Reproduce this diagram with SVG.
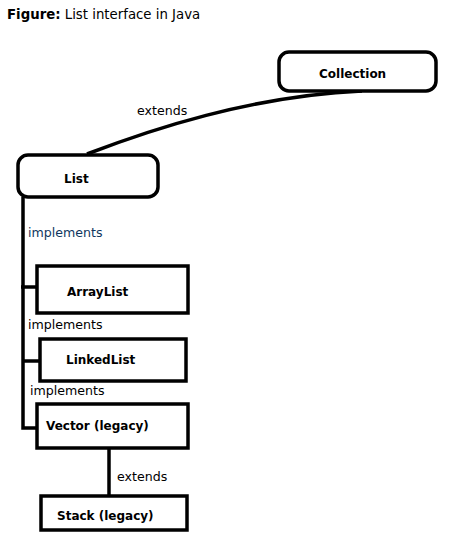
<svg xmlns="http://www.w3.org/2000/svg" width="454" height="553" viewBox="0 0 454 553">
<style>
.box{fill:#fff;stroke:#000;stroke-width:3.5}
.ln{fill:none;stroke:#000;stroke-width:3.5}
.nt{font-family:"DejaVu Sans",sans-serif;font-weight:bold;font-size:12px;fill:#000}
.lb{font-family:"DejaVu Sans",sans-serif;font-size:12.6px;fill:#000}
</style>
<rect width="454" height="553" fill="#fff"/>
<text x="7" y="19" font-family="DejaVu Sans,sans-serif" font-size="13.3px" fill="#000"><tspan font-weight="bold">Figure:</tspan> List interface in Java</text>
<g id="connectors">
<path class="ln" d="M87,154 C150,130 250,96 362,91"/>
<path class="ln" d="M23,197 V428 H37"/>
<path class="ln" d="M21,287 H37"/>
<path class="ln" d="M23,361 H40"/>
<path class="ln" d="M109,448 V498"/>
<text class="lb" x="137" y="115">extends</text>
<text class="lb" x="28" y="237" style="fill:#0f3760">implements</text>
<text class="lb" x="28" y="329">implements</text>
<text class="lb" x="30" y="395">implements</text>
<text class="lb" x="117" y="481">extends</text>
</g>
<g id="collection">
<rect class="box" x="279" y="52" width="157" height="39" rx="10"/>
<text class="nt" x="319" y="78">Collection</text>
</g>
<g id="list">
<rect class="box" x="18" y="155" width="140" height="42" rx="10"/>
<text class="nt" x="64" y="183">List</text>
</g>
<g id="arraylist">
<rect class="box" x="37" y="266" width="151" height="47"/>
<text class="nt" x="67" y="296">ArrayList</text>
</g>
<g id="linkedlist">
<rect class="box" x="40" y="339" width="146" height="42"/>
<text class="nt" x="66" y="364">LinkedList</text>
</g>
<g id="vector">
<rect class="box" x="37" y="404" width="151" height="44"/>
<text class="nt" x="46" y="430">Vector (legacy)</text>
</g>
<g id="stack">
<rect class="box" x="41" y="496" width="146" height="34"/>
<text class="nt" x="57" y="520">Stack (legacy)</text>
</g>
</svg>
